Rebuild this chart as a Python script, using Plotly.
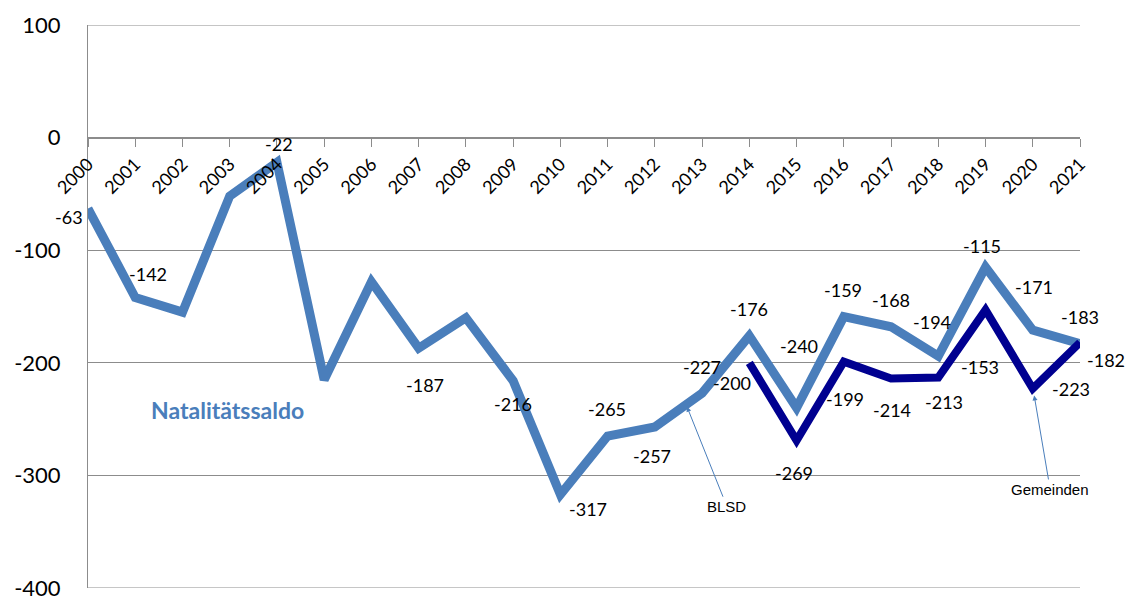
import plotly.graph_objects as go

years = list(range(2000, 2022))
blsd = [-63, -142, -155, -52, -22, -215, -128, -187, -160, -216, -317,
        -265, -257, -227, -176, -240, -159, -168, -194, -115, -171, -183]
gem_years = list(range(2014, 2022))
gemeinden = [-200, -269, -199, -214, -213, -153, -223, -182]
y_ticks = [100, 0, -100, -200, -300, -400]

# which BLSD points carry a label
blsd_labeled = [True, True, False, False, True, False, False, True, False, True, True,
                True, True, True, True, True, True, True, True, True, True, True]
# label offsets (pixels)
blsd_dx = [-19, 13, 0, 0, 2, 0, 0, 6, 0, 0, 28, -1, -3, 0, 0, 2, -1, 0, -6, -4, 1, 0]
blsd_dy = [-8, 23, 0, 0, 18, 0, 0, -37, 0, -23, -14, 27, -29, 26, 27, 62, 27, 27, 34, 21, 43, 27]
gem_dx = [-17, -3, 1, 1, 6, -6, 38, 26]
gem_dy = [-20, -33, -37, -31, -25, -57, 0, -17]

LIGHT = "#4A7EBB"
DARK = "#000090"
GRID = "#8C8C8C"
LABEL_FONT = dict(family="Lato", size=18, color="#000000")

fig = go.Figure()
fig.add_trace(go.Scatter(x=years, y=blsd, mode="lines",
                         line=dict(color=LIGHT, width=9), showlegend=False))
fig.add_trace(go.Scatter(x=gem_years, y=gemeinden, mode="lines",
                         line=dict(color=DARK, width=8), showlegend=False))

annotations = []
for yr, v, lab, dx, dy in zip(years, blsd, blsd_labeled, blsd_dx, blsd_dy):
    if lab:
        annotations.append(dict(x=yr, y=v, text=str(v), showarrow=False,
                                xshift=dx, yshift=dy, font=LABEL_FONT))
for yr, v, dx, dy in zip(gem_years, gemeinden, gem_dx, gem_dy):
    annotations.append(dict(x=yr, y=v, text=str(v), showarrow=False,
                            xshift=dx, yshift=dy, font=LABEL_FONT))

annotations.append(dict(x=2002.96, y=-242, text="<b>Natalitätssaldo</b>", showarrow=False,
                        font=dict(family="Lato", size=23, color=LIGHT)))
annotations.append(dict(x=2012.68, y=-239, ax=40, ay=100, text="BLSD", showarrow=True,
                        arrowhead=2, arrowsize=1, arrowwidth=1, arrowcolor=LIGHT,
                        font=dict(family="Liberation Sans", size=15, color="#000000")))
annotations.append(dict(x=2020.03, y=-229, ax=16, ay=94, text="Gemeinden", showarrow=True,
                        arrowhead=2, arrowsize=1, arrowwidth=1, arrowcolor=LIGHT,
                        font=dict(family="Liberation Sans", size=15, color="#000000")))

# edge gridlines (top and bottom of the value range)
shapes = [dict(type="line", xref="paper", x0=0, x1=1, yref="y", y0=v, y1=v,
               line=dict(color=GRID, width=1), layer="below")
          for v in (y_ticks[0], y_ticks[-1])]

fig.update_layout(
    width=1129, height=598,
    margin=dict(l=88, r=49, t=25, b=10),
    paper_bgcolor="white", plot_bgcolor="white",
    annotations=annotations,
    shapes=shapes,
    xaxis=dict(range=[2000, 2021], tickvals=years, ticktext=[str(y) for y in years],
               tickangle=-45, showgrid=False, zeroline=False, automargin=False,
               showline=True, linecolor=GRID, linewidth=1,
               ticks="outside", ticklen=8, tickcolor=GRID,
               anchor="free", position=0.8,
               tickfont=dict(family="Lato", size=18, color="#000000")),
    yaxis=dict(range=[-400, 100], tickvals=y_ticks, ticktext=[str(v) for v in y_ticks],
               showgrid=True, gridcolor=GRID, gridwidth=1, zeroline=False, automargin=False,
               showline=True, linecolor=GRID, linewidth=1, ticks="",
               ticklabelstandoff=22, ticklabeloverflow="allow",
               tickfont=dict(family="Lato", size=22, color="#000000")),
)

fig.write_html("out.html", config={"displayModeBar": False},
               post_script="document.body.style.margin='0';document.body.style.overflow='hidden';")
